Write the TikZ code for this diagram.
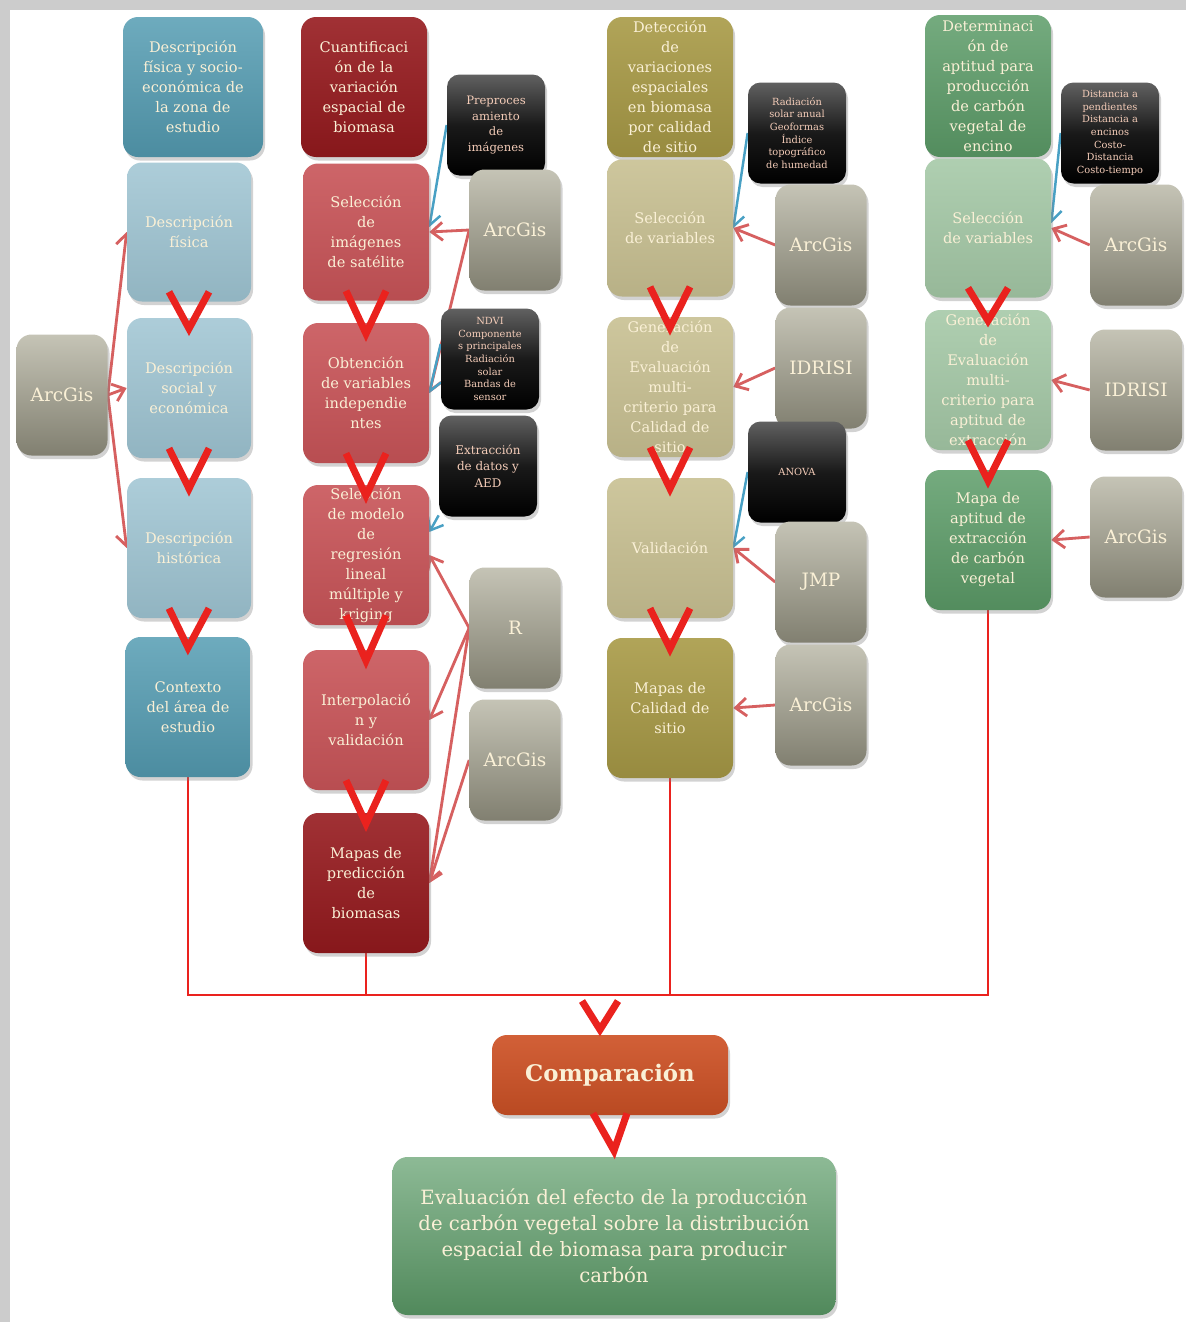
\documentclass[tikz,border=0pt]{standalone}
\usepackage{fontspec}
\setmainfont{DejaVu Serif}
\usetikzlibrary{arrows.meta, calc, shadows}
\definecolor{tealdark}{RGB}{84, 156, 178}
\definecolor{teallight}{RGB}{158, 196, 210}
\definecolor{reddark}{RGB}{150, 26, 30}
\definecolor{redmid}{RGB}{200, 84, 88}
\definecolor{olivedark}{RGB}{168, 154, 70}
\definecolor{olivelight}{RGB}{200, 192, 146}
\definecolor{greendark}{RGB}{92, 156, 104}
\definecolor{greenlight}{RGB}{164, 200, 166}
\definecolor{toolgray}{RGB}{172, 170, 150}
\definecolor{orangebox}{RGB}{206, 82, 38}
\definecolor{cream}{RGB}{250, 240, 214}
\definecolor{salmon}{RGB}{244, 204, 184}
\definecolor{linkred}{RGB}{214, 96, 96}
\definecolor{linkblue}{RGB}{72, 160, 196}
\definecolor{veered}{RGB}{234, 34, 30}
\pgfdeclarelayer{back}
\pgfdeclarelayer{links}
\pgfsetlayers{back,links,main}
\newcommand{\vlink}[2]{\draw[vee] ($(#1.south)+(-0.4,0.2)$) -- ($(#2.north)+(0,-0.22)$) -- ($(#1.south)+(0.4,0.2)$);}

\begin{document}
\begin{tikzpicture}[
    box/.style={rounded corners=0.3cm, align=center, text=cream, inner sep=1pt,
      minimum width=2.52cm, minimum height=2.8cm, font=\fontsize{8.3}{11.4}\selectfont,
      drop shadow={opacity=0.35, shadow xshift=0.04cm, shadow yshift=-0.07cm}},
    tealbox/.style={box, top color=tealdark!85!white, bottom color=tealdark!90!black},
    tealsoft/.style={box, top color=teallight!85!white, bottom color=teallight!92!black},
    redbox/.style={box, top color=reddark!90!white, bottom color=reddark!90!black},
    redsoft/.style={box, top color=redmid!90!white, bottom color=redmid!92!black},
    olivebox/.style={box, top color=olivedark!90!white, bottom color=olivedark!90!black},
    olivesoft/.style={box, top color=olivelight!90!white, bottom color=olivelight!92!black},
    greenbox/.style={box, top color=greendark!85!white, bottom color=greendark!90!black},
    greensoft/.style={box, top color=greenlight!88!white, bottom color=greenlight!92!black},
    tool/.style={box, minimum width=1.82cm, minimum height=2.42cm, font=\fontsize{10.5}{13}\selectfont,
      top color=toolgray!70!white, bottom color=toolgray!75!black},
    note/.style={box, rounded corners=0.25cm, minimum width=1.96cm, minimum height=2.02cm,
      text=salmon, font=\fontsize{5.6}{7.2}\selectfont, top color=black!62, bottom color=black,
      middle color=black!90},
    redlink/.style={-{Straight Barb[length=2.2mm, width=3.6mm]}, linkred, line width=1.6pt},
    bluelink/.style={-{Straight Barb[length=2.2mm, width=3.6mm]}, linkblue, line width=1.4pt},
    bus/.style={veered, line width=1.6pt},
    vee/.style={veered, line width=4pt, line join=miter}
  ]
  \useasboundingbox (0,0) rectangle (23.72,-26.44);
  \begin{pgfonlayer}{back}
    \fill[black!20] (0,0) rectangle (23.72,-26.44);
    \fill[white] (0.2,-0.2) rectangle (23.72,-26.44);
  \end{pgfonlayer}

  \node[tealbox, minimum width=2.8cm] (top1) at (3.86,-1.74) {Descripción\\física y socio-\\económica de\\la zona de\\estudio};
  \node[tealsoft, minimum width=2.48cm, minimum height=2.78cm] (dfis) at (3.78,-4.64) {Descripción\\física};
  \node[tealsoft, minimum width=2.48cm] (dsoc) at (3.78,-7.76) {Descripción\\social y\\económica};
  \node[tealsoft, minimum width=2.48cm] (dhis) at (3.78,-10.96) {Descripción\\histórica};
  \node[tealbox, minimum width=2.5cm] (ctx) at (3.76,-14.14) {Contexto\\del área de\\estudio};
  \node[tool] (arc1) at (1.24,-7.9) {ArcGis};

  \node[redbox] (top2) at (7.28,-1.74) {Cuantificaci\\ón de la\\variación\\espacial de\\biomasa};
  \node[redsoft, minimum height=2.74cm] (selimg) at (7.32,-4.64) {Selección\\de\\imágenes\\de satélite};
  \node[redsoft] (obt) at (7.32,-7.86) {Obtención\\de variables\\independie\\ntes};
  \node[redsoft] (selmod) at (7.32,-11.1) {Selección\\de modelo\\de\\regresión\\lineal\\múltiple y\\kriging};
  \node[redsoft] (interp) at (7.32,-14.4) {Interpolació\\n y\\validación};
  \node[redbox] (mappred) at (7.32,-17.66) {Mapas de\\predicción\\de\\biomasas};
  \node[note, font=\fontsize{6.6}{9}\selectfont] (prep) at (9.92,-2.5) {Preproces\\amiento\\de\\imágenes};
  \node[tool] (arc2) at (10.3,-4.6) {ArcGis};
  \node[note] (ndvi) at (9.8,-7.18) {NDVI\\Componente\\s principales\\Radiación\\solar\\Bandas de\\sensor};
  \node[note, font=\fontsize{6.8}{9.4}\selectfont] (extr) at (9.76,-9.32) {Extracción\\de datos y\\AED};
  \node[tool] (rsoft) at (10.3,-12.56) {R};
  \node[tool] (arc3) at (10.3,-15.2) {ArcGis};

  \node[olivebox] (top3) at (13.4,-1.74) {Detección\\de\\variaciones\\espaciales\\en biomasa\\por calidad\\de sitio};
  \node[olivesoft, minimum height=2.74cm] (selvar3) at (13.4,-4.56) {Selección\\de variables};
  \node[olivesoft] (gen3) at (13.4,-7.74) {Generación\\de\\Evaluación\\multi-\\criterio para\\Calidad de\\sitio};
  \node[olivesoft] (val3) at (13.4,-10.96) {Validación};
  \node[olivebox] (mapcal) at (13.4,-14.16) {Mapas de\\Calidad de\\sitio};
  \node[note] (rad) at (15.94,-2.66) {Radiación\\solar anual\\Geoformas\\Índice\\topográfico\\de humedad};
  \node[tool] (arc4) at (16.42,-4.9) {ArcGis};
  \node[tool] (idr3) at (16.42,-7.36) {IDRISI};
  \node[note] (anova) at (15.94,-9.44) {ANOVA};
  \node[tool] (jmp) at (16.42,-11.64) {JMP};
  \node[tool] (arc5) at (16.42,-14.1) {ArcGis};

  \node[greenbox, minimum height=2.84cm] (top4) at (19.76,-1.72) {Determinaci\\ón de\\aptitud para\\producción\\de carbón\\vegetal de\\encino};
  \node[greensoft, minimum height=2.78cm] (selvar4) at (19.76,-4.56) {Selección\\de variables};
  \node[greensoft] (gen4) at (19.76,-7.6) {Generación\\de\\Evaluación\\multi-\\criterio para\\aptitud de\\extracción};
  \node[greenbox] (mapapt) at (19.76,-10.8) {Mapa de\\aptitud de\\extracción\\de carbón\\vegetal};
  \node[note] (dist) at (22.2,-2.66) {Distancia a\\pendientes\\Distancia a\\encinos\\Costo-\\Distancia\\Costo-tiempo};
  \node[tool, minimum width=1.84cm] (arc6) at (22.72,-4.9) {ArcGis};
  \node[tool, minimum width=1.84cm] (idr4) at (22.72,-7.8) {IDRISI};
  \node[tool, minimum width=1.84cm] (arc7) at (22.72,-10.74) {ArcGis};

  \node[box, minimum width=4.72cm, minimum height=1.6cm, font=\fontsize{13}{15}\selectfont\bfseries,
    top color=orangebox!92!white, bottom color=orangebox!90!black] (comp) at (12.2,-21.5) {Comparación};
  \node[box, minimum width=8.86cm, minimum height=3.16cm, font=\fontsize{11.2}{14.8}\selectfont,
    top color=greendark!70!white, bottom color=greendark!88!black] (eval) at (12.28,-24.72)
    {Evaluación del efecto de la producción\\de carbón vegetal sobre la distribución\\espacial de biomasa para producir\\carbón};
  \coordinate (hub) at (12.0,-19.9);

  \begin{pgfonlayer}{links}
    \draw[redlink] (arc1.east) -- (dfis.west);
    \draw[redlink] (arc1.east) -- (dsoc.west);
    \draw[redlink] (arc1.east) -- (dhis.west);
    \draw[bluelink] (prep.west) -- ([yshift=0.1cm]selimg.east);
    \draw[redlink] (arc2.west) -- (selimg.east);
    \draw[redlink] (arc2.west) -- (obt.east);
    \draw[bluelink] ([yshift=0.3cm]ndvi.west) -- (obt.east);
    \draw[bluelink] (extr.225) -- (selmod.20);
    \draw[redlink] (rsoft.west) -- (selmod.east);
    \draw[redlink] (rsoft.west) -- (interp.east);
    \draw[redlink] (rsoft.west) -- (mappred.east);
    \draw[redlink] (arc3.west) -- (mappred.east);
    \draw[bluelink] (rad.west) -- (selvar3.east);
    \draw[redlink] (arc4.west) -- (selvar3.east);
    \draw[redlink] (idr3.west) -- (gen3.east);
    \draw[bluelink] (anova.west) -- (val3.east);
    \draw[redlink] (jmp.west) -- (val3.east);
    \draw[redlink] (arc5.west) -- (mapcal.east);
    \draw[bluelink] (dist.west) -- ([yshift=0.1cm]selvar4.east);
    \draw[redlink] (arc6.west) -- (selvar4.east);
    \draw[redlink] (idr4.west) -- (gen4.east);
    \draw[redlink] (arc7.west) -- (mapapt.east);
    \draw[bus] (ctx.south) |- (hub) -| (mapapt.south);
    \draw[bus] (mappred.south) -- (mappred.south |- hub);
    \draw[bus] (mapcal.south) -- (mapcal.south |- hub);
  \end{pgfonlayer}

  \vlink{dfis}{dsoc}
  \vlink{dsoc}{dhis}
  \vlink{dhis}{ctx}
  \vlink{selimg}{obt}
  \vlink{obt}{selmod}
  \vlink{selmod}{interp}
  \vlink{interp}{mappred}
  \vlink{selvar3}{gen3}
  \vlink{gen3}{val3}
  \vlink{val3}{mapcal}
  \vlink{selvar4}{gen4}
  \vlink{gen4}{mapapt}
  \draw[vee] ($(hub)+(-0.36,-0.12)$) -- ($(hub |- comp.north)+(0,0.1)$) -- ($(hub)+(0.36,-0.12)$);
  \draw[vee] ($(comp.south)+(-0.34,0.04)$) -- ($(eval.north)+(0,0.12)$) -- ($(comp.south)+(0.34,0.04)$);
\end{tikzpicture}
\end{document}
